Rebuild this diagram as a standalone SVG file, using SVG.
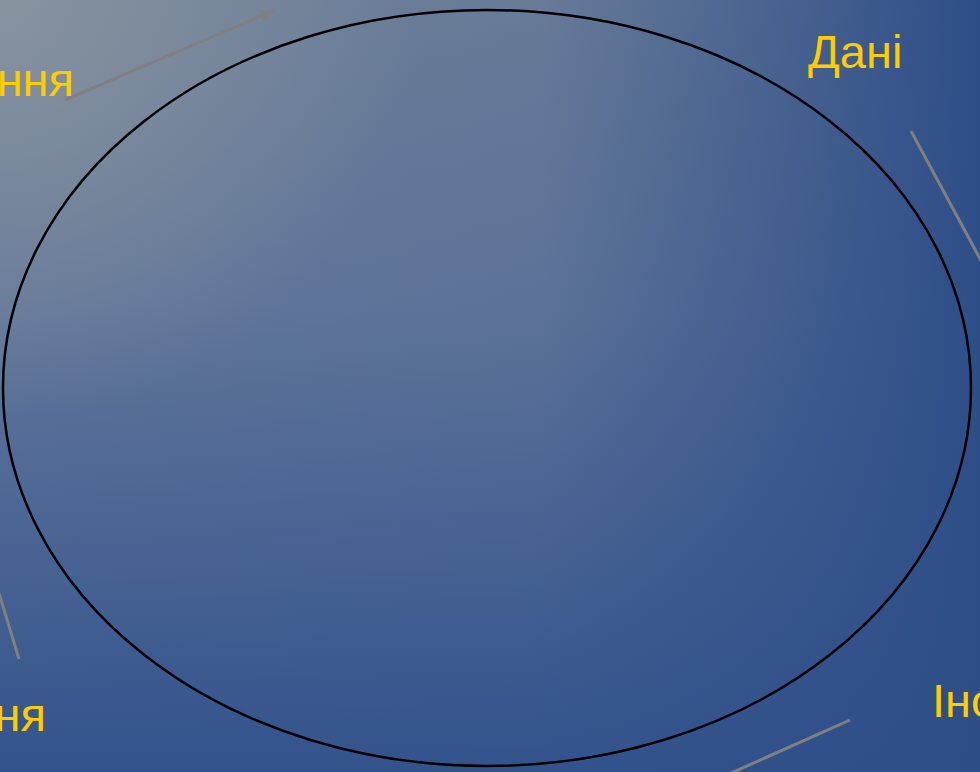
<svg xmlns="http://www.w3.org/2000/svg" width="980" height="772" viewBox="0 0 980 772">
<defs>
<linearGradient id="bgv" x1="0" y1="0" x2="0" y2="1">
<stop offset="0" stop-color="#6e8099"/>
<stop offset="0.4" stop-color="#61769a"/>
<stop offset="1" stop-color="#33538d"/>
</linearGradient>
<linearGradient id="bgh" x1="0" y1="0" x2="1" y2="0">
<stop offset="0" stop-color="#2e4e88" stop-opacity="0"/>
<stop offset="0.55" stop-color="#2e4e88" stop-opacity="0.1"/>
<stop offset="1" stop-color="#2e4e88" stop-opacity="1"/>
</linearGradient>
<radialGradient id="bgr" gradientUnits="userSpaceOnUse" cx="0" cy="0" r="420">
<stop offset="0" stop-color="#8e98a0" stop-opacity="0.8"/>
<stop offset="1" stop-color="#8e98a0" stop-opacity="0"/>
</radialGradient>
<marker id="ah" viewBox="0 0 16 12" refX="15" refY="6" markerWidth="16" markerHeight="12" orient="auto" markerUnits="userSpaceOnUse">
<path d="M0,0 L16,6 L0,12 z" fill="#808080"/>
</marker>
<style>
.lbl{font-family:"Liberation Sans",Arial,sans-serif;font-size:47px;fill:#ffcc00}
.con{stroke:#808080;stroke-width:3;fill:none}
</style>
</defs>
<rect width="980" height="772" fill="url(#bgv)"/>
<rect width="980" height="772" fill="url(#bgh)"/>
<rect width="980" height="772" fill="url(#bgr)"/>
<g id="connectors">
<line class="con" x1="65" y1="100" x2="275" y2="10" marker-end="url(#ah)"/>
<line class="con" x1="911" y1="131" x2="985" y2="268"/>
<line class="con" x1="-2" y1="590" x2="19" y2="659"/>
<line class="con" x1="850" y1="720" x2="720" y2="778"/>
</g>
<g id="ellipse">
<ellipse cx="487" cy="388" rx="484" ry="378" fill="none" stroke="#000" stroke-width="2.5"/>
</g>
<g id="label-tl"><text class="lbl" x="74" y="96" text-anchor="end">ння</text></g>
<g id="label-tr"><text class="lbl" x="808" y="68">Дані</text></g>
<g id="label-bl"><text class="lbl" x="46" y="731" text-anchor="end">ня</text></g>
<g id="label-br"><text class="lbl" x="932" y="717">Іно</text></g>
</svg>
